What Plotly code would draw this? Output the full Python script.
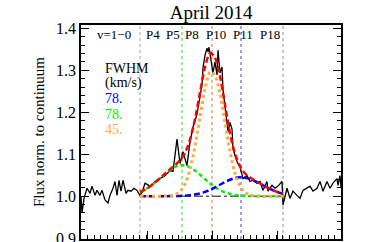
import plotly.graph_objects as go

# ---------------- data ----------------
title_text = "April 2014"
ytitle = "Flux norm. to continuum"

# observed spectrum (x: velocity-like offset, y: normalised flux)
spec_x = [-130, -129, -127, -124, -121, -119, -116, -114, -111, -109, -106, -103, -101, -98, -96,
          -94, -92, -90, -88, -85, -83, -80, -77, -74, -71, -69, -66, -61, -56, -51, -46, -41, -38,
          -34, -31, -28, -24, -21, -18, -14, -11, -9, -8, -6, -4, -3, -2, -1, 1, 2, 4, 6, 7, 9, 11,
          12, 14, 16, 17, 19, 21, 22, 26, 29, 32, 36, 39, 42, 46, 49, 52, 56, 57, 61, 64, 67, 71, 72,
          76, 79, 82, 86, 89, 92, 96, 99, 102, 106, 109, 112, 116, 119, 122, 126, 127, 129, 130]
spec_y = [1.000, 0.960, 0.995, 1.019, 1.007, 1.024, 1.002, 1.014, 1.002, 1.014, 0.991, 0.984, 1.002,
          1.019, 1.035, 1.002, 1.038, 1.012, 1.038, 1.007, 1.014, 1.012, 1.019, 1.014, 1.002, 1.009,
          1.031, 1.024, 1.035, 1.042, 1.049, 1.061, 1.059, 1.136, 1.078, 1.106, 1.073, 1.129, 1.165,
          1.195, 1.235, 1.266, 1.306, 1.336, 1.353, 1.344, 1.355, 1.339, 1.306, 1.294, 1.320, 1.289,
          1.348, 1.294, 1.308, 1.254, 1.214, 1.167, 1.153, 1.176, 1.160, 1.113, 1.082, 1.071, 1.042,
          1.049, 1.035, 1.038, 1.031, 1.035, 1.014, 1.035, 1.012, 1.026, 1.019, 1.024, 1.035, 0.979,
          1.019, 0.995, 1.012, 1.002, 0.995, 1.014, 1.019, 1.024, 1.012, 1.019, 1.035, 1.012, 1.035,
          1.019, 1.031, 1.042, 1.026, 1.049, 1.019]

continuum = 1.0
fit_x = [-71, -66, -61, -56, -51, -46, -41, -36, -31, -26, -21, -16, -11, -6, -1, 1, 4, 9, 14, 19,
         24, 29, 34, 39, 44, 49, 54, 59, 64, 69, 72]
# component excess above continuum
green_comp = [0.0100, 0.0157, 0.0232, 0.0324, 0.0427, 0.0533, 0.0628, 0.0700, 0.0737, 0.0733,
              0.0688, 0.0611, 0.0513, 0.0406, 0.0304, 0.0267, 0.0215, 0.0144, 0.0091, 0.0054,
              0.0031, 0.0016, 0.0008, 0.0004, 0.0002, 0.0001, 0.0, 0.0, 0.0, 0.0, 0.0]
blue_comp = [0.0, 0.0, 0.0, 0.0, 0.0, 0.0001, 0.0002, 0.0003, 0.0007, 0.0013, 0.0024, 0.0041,
             0.0067, 0.0104, 0.0151, 0.0173, 0.0209, 0.0273, 0.0337, 0.0392, 0.0432, 0.0450,
             0.0442, 0.0410, 0.0360, 0.0299, 0.0234, 0.0173, 0.0121, 0.0080, 0.0061]
orange_comp = [0.0, 0.0, 0.0, 0.0, 0.0001, 0.0003, 0.0010, 0.0038, 0.0113, 0.0290, 0.0638, 0.1190,
               0.1890, 0.2560, 0.2960, 0.2950, 0.2880, 0.2440, 0.1750, 0.1060, 0.0552, 0.0244,
               0.0092, 0.0030, 0.0008, 0.0002, 0.0, 0.0, 0.0, 0.0, 0.0]

fwhm_labels = ["78.", "78.", "45."]
line_pos = [-71, -29, 1, 30, 72]
line_cols = ["#a0a0a0", "#22dd22", "#c08040", "#4040ff", "#909090"]
top_labels = ["v=1\u22120", "P4", "P5", "P8", "P10", "P11", "P18"]
top_label_x = [-97, -58, -38, -19, 5, 32, 59]

# ---------------- figure ----------------
SERIF = "Liberation Serif, DejaVu Serif, serif"
fig = go.Figure()

for xp, c in zip(line_pos, line_cols):
    fig.add_shape(type="line", xref="x", yref="paper", x0=xp, x1=xp, y0=0, y1=1,
                  line=dict(color=c, width=1, dash="dot"), layer="below")

fig.add_trace(go.Scatter(x=spec_x, y=spec_y, mode="lines",
                         line=dict(color="black", width=1.3)))

fig.add_trace(go.Scatter(x=fit_x, y=[continuum] * len(fit_x), mode="lines",
                         line=dict(color="#6a5a55", width=1.5, dash="dashdot")))

green_y = [continuum + v for v in green_comp]
blue_y = [continuum + v for v in blue_comp]
orange_y = [continuum + v for v in orange_comp]
total_y = [continuum + g + b + o for g, b, o in zip(green_comp, blue_comp, orange_comp)]

fig.add_trace(go.Scatter(x=fit_x, y=green_y, mode="lines", line_shape="spline",
                         line=dict(color="#00ee00", width=2.5, dash="4px,3px")))
fig.add_trace(go.Scatter(x=fit_x, y=blue_y, mode="lines", line_shape="spline",
                         line=dict(color="#0000ff", width=2.5, dash="6px,3px")))
fig.add_trace(go.Scatter(x=fit_x, y=orange_y, mode="lines", line_shape="spline",
                         line=dict(color="#ffaa44", width=3, dash="3px,3px")))
fig.add_trace(go.Scatter(x=fit_x, y=total_y, mode="lines", line_shape="spline",
                         line=dict(color="#ff0000", width=2.5, dash="6px,3px")))

for t, xv in zip(top_labels, top_label_x):
    fig.add_annotation(x=xv, y=1.386, xref="x", yref="y", text=t, showarrow=False,
                       font=dict(family=SERIF, size=13, color="black"))

legend_rows = [("FWHM", "black", 1.3055), ("(km/s)", "black", 1.270),
               (fwhm_labels[0], "#0000ff", 1.234), (fwhm_labels[1], "#00ee00", 1.194),
               (fwhm_labels[2], "#ffaa44", 1.160)]
for t, c, yv in legend_rows:
    fig.add_annotation(x=-107, y=yv, xref="x", yref="y", text=t, showarrow=False,
                       xanchor="left", yanchor="middle", borderpad=0,
                       font=dict(family=SERIF, size=14, color=c))

fig.update_layout(
    width=366, height=242,
    margin=dict(l=81, r=25, t=25, b=3, autoexpand=False),
    paper_bgcolor="white", plot_bgcolor="white",
    showlegend=False,
    title=dict(text=title_text, x=0.577, xanchor="center", y=0.95, yanchor="middle",
               font=dict(family=SERIF, size=19, color="black")),
    font=dict(family=SERIF, color="black"),
)
fig.update_xaxes(range=[-130, 130], showgrid=False, zeroline=False, showline=True,
                 linecolor="black", linewidth=1.5, mirror=True, ticks="inside", ticklen=8,
                 tickwidth=1, automargin=False,
                 tick0=1, dtick=65, showticklabels=False, tickcolor="black",
                 minor=dict(ticks="inside", ticklen=4, dtick=6.5, tickcolor="black", tickwidth=1))
fig.update_yaxes(range=[0.898, 1.408], showgrid=False, zeroline=False, showline=True,
                 linecolor="black", linewidth=1.5, mirror="allticks", ticks="inside", ticklen=8,
                 tickwidth=1, automargin=False, ticklabeloverflow="allow",
                 tick0=0.9, dtick=0.1, tickformat=".1f", tickcolor="black",
                 tickfont=dict(family=SERIF, size=16, color="black"),
                 minor=dict(ticks="inside", ticklen=4, dtick=0.02, tickcolor="black", tickwidth=1),
                 title=dict(text=ytitle, font=dict(family=SERIF, size=15, color="black"),
                            standoff=8))

fig.write_html("out.html", config={"displayModeBar": False},
               post_script="document.body.style.margin='0px';")
